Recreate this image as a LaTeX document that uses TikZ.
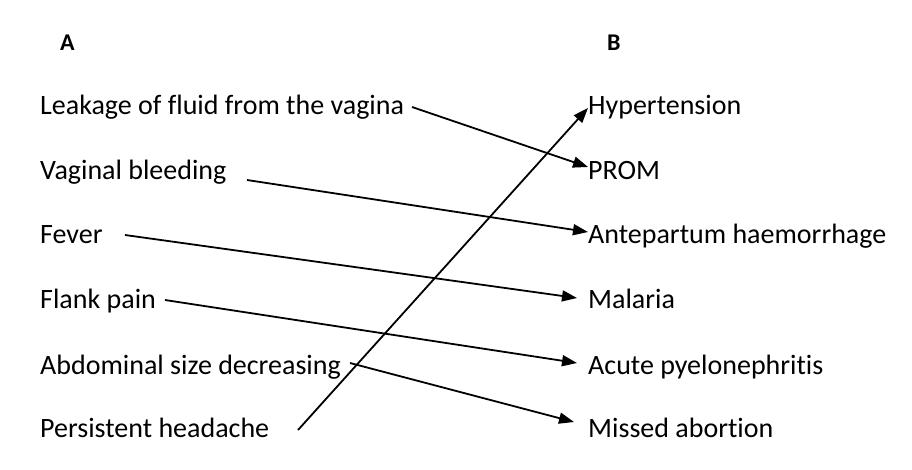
\documentclass[tikz,border=0pt]{standalone}
\usepackage{fontspec}
\setmainfont{Carlito}[Ligatures={NoCommon}]
\usetikzlibrary{arrows.meta,calc}
\begin{document}
\begin{tikzpicture}[x=1pt,y=-1pt,
  item/.style={anchor=base west, inner sep=0pt, font=\fontsize{28}{33}\selectfont},
  head/.style={anchor=base west, inner sep=0pt, font=\fontsize{24}{28}\selectfont\bfseries},
  link/.style={line width=1.8pt, -{Triangle[length=15pt,width=11pt]}}]
\useasboundingbox[fill=white] (0,0) rectangle (912,469);
% headers
\node[head] (A) at (60,50) {A};
\node[head] (B) at (607,50) {B};
% column A
\node[item] (leak) at (40,114.5) {Leakage of fluid from the vagina};
\node[item] (vag)  at (40,179)   {Vaginal bleeding};
\node[item] (fev)  at (40,243.5) {Fever};
\node[item] (flank) at (40,308.5) {Flank pain};
\node[item] (abd)  at (40,374)   {Abdominal size decreasing};
\node[item] (head) at (40,437.5) {Persistent headache};
% column B
\node[item] (hyp)  at (588,114.5) {Hypertension};
\node[item] (prom) at (588,179)   {PROM};
\node[item] (aph)  at (588,243.5) {Antepartum haemorrhage};
\node[item] (mal)  at (588,308.5) {Malaria};
\node[item] (pyel) at (588,374)   {Acute pyelonephritis};
\node[item] (miss) at (588,437.5) {Missed abortion};
% connector ends
\coordinate (sLeak) at (412,107);
\coordinate (sVag) at (247,180);
\coordinate (sFev) at (125,235);
\coordinate (sFlank) at (165,300);
\coordinate (sAbd) at (350,363);
\coordinate (sHead) at (298,430);
\coordinate (tHyp) at ($(hyp.base west)+(0,-6.5)$);
\coordinate (tProm) at ($(prom.base west)+(0,-12)$);
\coordinate (tAph) at ($(aph.base west)+(0,-11.5)$);
\coordinate (tMal) at ($(mal.base west)+(-11,-10.5)$);
\coordinate (tPyel) at ($(pyel.base west)+(-11,-11)$);
\coordinate (tMiss) at ($(miss.base west)+(-14,-15.5)$);
% connectors
\draw[link] (sLeak) -- (tProm);
\draw[link] (sVag) -- (tAph);
\draw[link] (sFev) -- (tMal);
\draw[link] (sFlank) -- (tPyel);
\draw[link] (sAbd) -- (tMiss);
\draw[link] (sHead) -- (tHyp);
\end{tikzpicture}
\end{document}
